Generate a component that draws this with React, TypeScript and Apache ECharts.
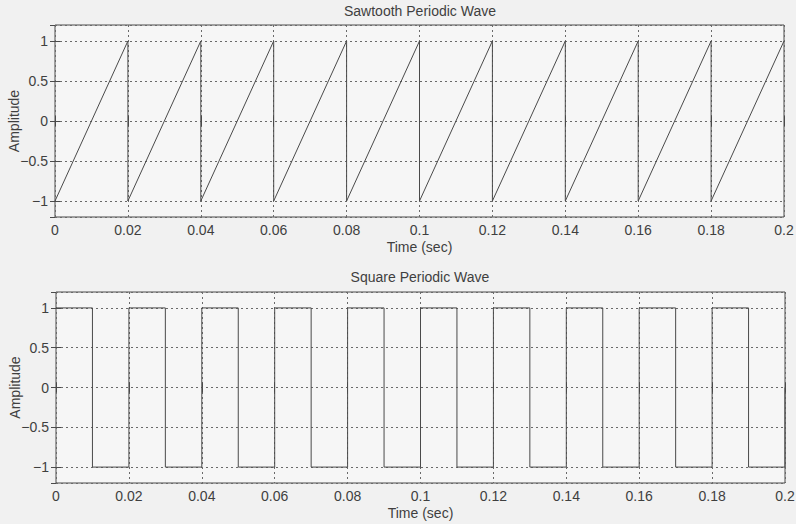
import React, { useEffect, useRef } from "react";
import * as echarts from "echarts";

const sawTitle = "Sawtooth Periodic Wave";
const squareTitle = "Square Periodic Wave";
const xName = "Time (sec)";
const yName = "Amplitude";

const sawTime = [0, 0.02, 0.02, 0.04, 0.04, 0.06, 0.06, 0.08, 0.08, 0.1, 0.1, 0.12, 0.12, 0.14, 0.14, 0.16, 0.16, 0.18, 0.18, 0.2];
const sawAmp = [-1, 1, -1, 1, -1, 1, -1, 1, -1, 1, -1, 1, -1, 1, -1, 1, -1, 1, -1, 1];

const squareTime = [0, 0.01, 0.01, 0.02, 0.02, 0.03, 0.03, 0.04, 0.04, 0.05, 0.05, 0.06, 0.06, 0.07, 0.07, 0.08, 0.08, 0.09, 0.09, 0.1, 0.1, 0.11, 0.11, 0.12, 0.12, 0.13, 0.13, 0.14, 0.14, 0.15, 0.15, 0.16, 0.16, 0.17, 0.17, 0.18, 0.18, 0.19, 0.19, 0.2, 0.2];
const squareAmp = [1, 1, -1, -1, 1, 1, -1, -1, 1, 1, -1, -1, 1, 1, -1, -1, 1, 1, -1, -1, 1, 1, -1, -1, 1, 1, -1, -1, 1, 1, -1, -1, 1, 1, -1, -1, 1, 1, -1, -1, 0];

const xMin = 0;
const xMax = 0.2;
const xStep = 0.02;
const yMin = -1.2;
const yMax = 1.2;

const FONT = "Liberation Sans, Arial, sans-serif";
const TEXT = "#3f3f3f";
const LINE = "#4a4a4a";
const GRIDC = "#6a6a6a";

function fmtX(v: number) {
  return String(parseFloat(v.toFixed(3)));
}
function fmtY(v: number) {
  const r = Math.round(v * 2) / 2;
  if (Math.abs(r - v) > 1e-6) return "";
  if (r < 0) return "\u2212" + String(Math.abs(r));
  return String(r);
}

export default function App() {
  const ref = useRef<HTMLDivElement>(null);
  useEffect(() => {
    document.body.style.margin = "0";
    document.body.style.background = "#f1f1f1";
    const chart = echarts.init(ref.current!, null, { renderer: "svg" });
    const grids = [
      { left: 55, top: 25, width: 729, height: 192 },
      { left: 56, top: 292, width: 729, height: 191 },
    ];
    const xAxes: any[] = [];
    const yAxes: any[] = [];
    grids.forEach((_, gi) => {
      xAxes.push({
        type: "value",
        gridIndex: gi,
        min: xMin,
        max: xMax,
        interval: xStep,
        position: "bottom",
        name: xName,
        nameLocation: "middle",
        nameGap: 23,
        nameMoveOverlap: false,
        nameTextStyle: { fontFamily: FONT, fontSize: 14, color: TEXT },
        axisLine: { show: false },
        axisTick: { show: true, inside: true, length: 5, lineStyle: { color: LINE } },
        axisLabel: { show: true, formatter: fmtX, margin: 6, fontFamily: FONT, fontSize: 14, color: TEXT },
        splitLine: { show: true, lineStyle: { color: GRIDC, type: [2, 3], width: 1 } },
      });
      xAxes.push({
        type: "value",
        gridIndex: gi,
        min: xMin,
        max: xMax,
        interval: xStep,
        position: "top",
        axisLine: { show: false },
        axisTick: { show: true, inside: true, length: 5, lineStyle: { color: LINE } },
        axisLabel: { show: false },
        splitLine: { show: false },
      });
      yAxes.push({
        type: "value",
        gridIndex: gi,
        min: yMin,
        max: yMax,
        position: "left",
        name: yName,
        nameLocation: "middle",
        nameGap: 34,
        nameMoveOverlap: false,
        nameTextStyle: { fontFamily: FONT, fontSize: 14, color: TEXT },
        axisLine: { show: false },
        axisTick: { show: true, inside: true, length: 5, lineStyle: { color: LINE } },
        axisLabel: { show: true, showMinLabel: false, showMaxLabel: false, formatter: fmtY, margin: 7, fontFamily: FONT, fontSize: 14, color: TEXT },
        splitLine: { show: true, lineStyle: { color: GRIDC, type: [2, 3], width: 1 } },
      });
      yAxes.push({
        type: "value",
        gridIndex: gi,
        min: yMin,
        max: yMax,
        position: "right",
        axisLine: { show: false },
        axisTick: { show: true, inside: true, length: 5, lineStyle: { color: LINE } },
        axisLabel: { show: false },
        splitLine: { show: false },
      });
    });
    chart.setOption({
      animation: false,
      backgroundColor: "#f1f1f1",
      title: [
        { text: sawTitle, left: 420, top: 4, padding: 0, textAlign: "center", textStyle: { fontFamily: FONT, fontSize: 14, fontWeight: "normal", color: TEXT } },
        { text: squareTitle, left: 420, top: 270, padding: 0, textAlign: "center", textStyle: { fontFamily: FONT, fontSize: 14, fontWeight: "normal", color: TEXT } },
      ],
      grid: grids.map((g) => ({ ...g, show: true, containLabel: false, outerBoundsMode: "none", borderColor: LINE, borderWidth: 1, backgroundColor: "#f6f6f6" })),
      xAxis: xAxes,
      yAxis: yAxes,
      series: [
        {
          type: "line",
          xAxisIndex: 0,
          yAxisIndex: 0,
          data: sawTime.map((t, i) => [t, sawAmp[i]]),
          showSymbol: false,
          lineStyle: { color: LINE, width: 1 },
          z: 5,
        },
        {
          type: "line",
          xAxisIndex: 2,
          yAxisIndex: 2,
          data: squareTime.map((t, i) => [t, squareAmp[i]]),
          showSymbol: false,
          lineStyle: { color: LINE, width: 1 },
          z: 5,
        },
      ],
    });
    return () => chart.dispose();
  }, []);
  return <div ref={ref} style={{ width: 796, height: 524 }} />;
}
